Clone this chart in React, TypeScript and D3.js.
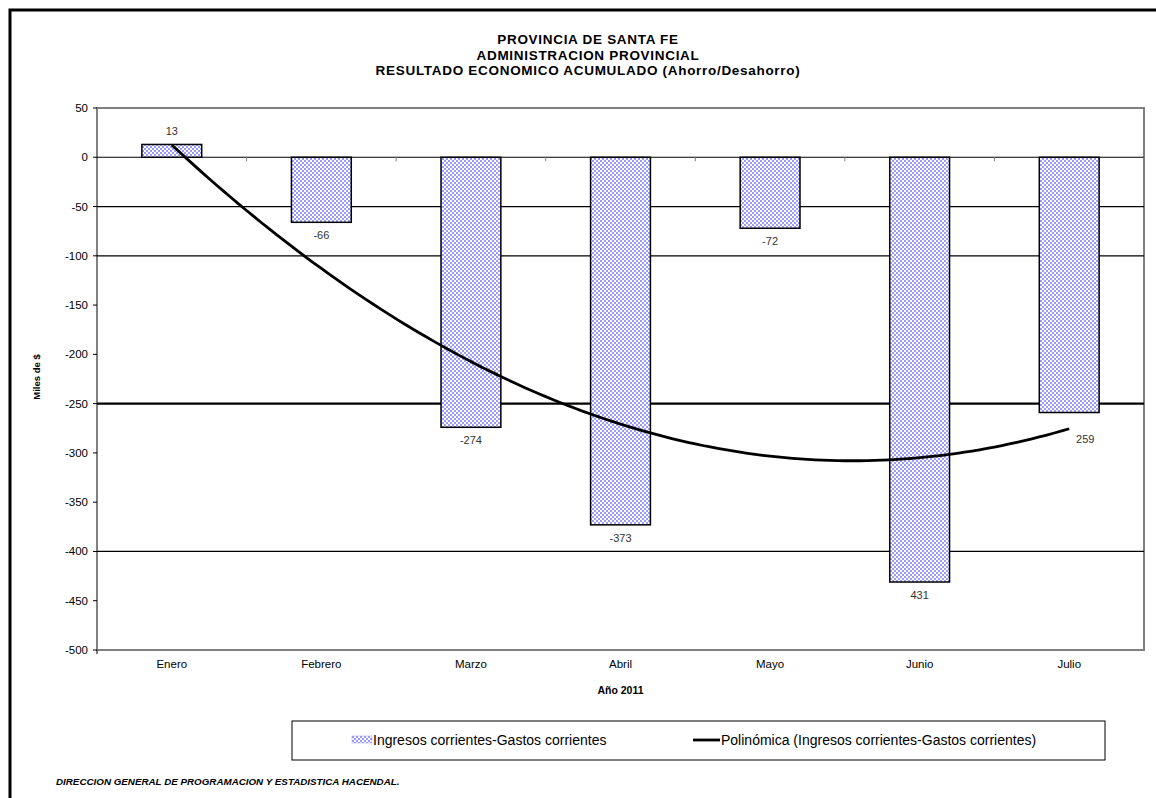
import React from "react";
import * as d3 from "d3";

const categories = ["Enero", "Febrero", "Marzo", "Abril", "Mayo", "Junio", "Julio"];
const values = [13, -66, -274, -373, -72, -431, -259];
const valueLabels = ["13", "-66", "-274", "-373", "-72", "431", "259"];
const yTicks = [50, 0, -50, -100, -150, -200, -250, -300, -350, -400, -450, -500];
const gridValues = [0, -50, -100, -250, -400];
const titleLines = [
  "PROVINCIA DE SANTA FE",
  "ADMINISTRACION PROVINCIAL",
  "RESULTADO ECONOMICO ACUMULADO (Ahorro/Desahorro)",
];
const seriesName = "Ingresos corrientes-Gastos corrientes";
const trendName = "Polinómica (Ingresos corrientes-Gastos corrientes)";

function quadFit(ys: number[]) {
  const n = ys.length;
  const xs = ys.map((_, i) => i + 1);
  let S0 = n, S1 = 0, S2 = 0, S3 = 0, S4 = 0, T0 = 0, T1 = 0, T2 = 0;
  xs.forEach((x, i) => {
    const y = ys[i];
    S1 += x; S2 += x * x; S3 += x ** 3; S4 += x ** 4;
    T0 += y; T1 += x * y; T2 += x * x * y;
  });
  const M = [
    [S0, S1, S2, T0],
    [S1, S2, S3, T1],
    [S2, S3, S4, T2],
  ];
  for (let i = 0; i < 3; i++) {
    for (let k = i + 1; k < 3; k++) {
      const f = M[k][i] / M[i][i];
      for (let j = i; j < 4; j++) M[k][j] -= f * M[i][j];
    }
  }
  const r = [0, 0, 0];
  for (let i = 2; i >= 0; i--) {
    let s = M[i][3];
    for (let j = i + 1; j < 3; j++) s -= M[i][j] * r[j];
    r[i] = s / M[i][i];
  }
  return (x: number) => r[0] + r[1] * x + r[2] * x * x;
}

export default function App() {
  const W = 1156, H = 798;
  const left = 97, right = 1144, top = 108, bottom = 650;
  const font = "'Liberation Sans', Arial, sans-serif";

  const x = d3.scaleBand<string>().domain(categories).range([left, right]).paddingInner(0.6).paddingOuter(0.3);
  const y = d3.scaleLinear().domain([-500, 50]).range([bottom, top]);
  const step = x.step();
  const cx = (i: number) => (x(categories[i]) as number) + x.bandwidth() / 2;

  const f = quadFit(values);
  const xi = d3.scaleLinear().domain([1, categories.length]).range([cx(0), cx(categories.length - 1)]);
  const pts = d3.range(1, categories.length + 0.001, 0.05).map((t) => [xi(t), y(f(t))] as [number, number]);
  const trendPath = d3.line()(pts) as string;
  const trendEnd = pts[pts.length - 1];

  return (
    <svg width={W} height={H} style={{ position: "absolute", left: 0, top: 0, background: "#fff" }} fontFamily={font}>
      <defs>
        <pattern id="chk" width="4" height="4" patternUnits="userSpaceOnUse">
          <rect width="4" height="4" fill="#ffffff" />
          <rect width="2" height="2" fill="#9a9aff" />
          <rect x="2" y="2" width="2" height="2" fill="#9a9aff" />
        </pattern>
      </defs>
      <path d={`M10,${H} V10 H${W}`} fill="none" stroke="#000" strokeWidth={3} />

      {titleLines.map((t, i) => (
        <text key={t} x={588} y={44 + i * 15.5} textAnchor="middle" fontSize={13.5} fontWeight="bold" letterSpacing={0.7}>{t}</text>
      ))}

      <rect x={left} y={top} width={right - left} height={bottom - top} fill="none" stroke="#808080" strokeWidth={2} />

      {gridValues.map((v) => (
        <line key={v} x1={left} x2={right} y1={y(v)} y2={y(v)} stroke="#000" strokeWidth={v === -250 ? 2.2 : 1.2} />
      ))}

      {yTicks.map((v) => (
        <g key={v}>
          <line x1={left - 4} x2={left} y1={y(v)} y2={y(v)} stroke="#000" strokeWidth={1} />
          <text x={88} y={y(v)} dy="0.35em" textAnchor="end" fontSize={11.5}>{v}</text>
        </g>
      ))}
      <text transform={`translate(40,${(top + bottom) / 2 - 2}) rotate(-90)`} textAnchor="middle" fontSize={9.5} fontWeight="bold">Miles de $</text>

      {categories.map((c, i) => (
        <line key={c} x1={left + step * (i + 1)} x2={left + step * (i + 1)} y1={y(0)} y2={y(0) + 4} stroke="#808080" strokeWidth={1} />
      ))}
      <line x1={left} x2={left} y1={bottom} y2={bottom + 4} stroke="#000" />

      {values.map((v, i) => (
        <rect key={categories[i]} x={x(categories[i])} y={y(Math.max(0, v))} width={x.bandwidth()} height={Math.abs(y(v) - y(0))}
          fill="url(#chk)" stroke="#000" strokeWidth={1.5} />
      ))}

      <path d={trendPath} fill="none" stroke="#000" strokeWidth={2.8} />

      {values.map((v, i) => {
        const last = i === values.length - 1;
        const lx = last ? trendEnd[0] + 16 : cx(i);
        const ly = last ? trendEnd[1] + 10 : v >= 0 ? y(v) - 13 : y(v) + 13;
        return (
          <text key={i} x={lx} y={ly} dy="0.35em" textAnchor="middle" fontSize={11} fill="#333">{valueLabels[i]}</text>
        );
      })}

      {categories.map((c, i) => (
        <text key={c} x={cx(i)} y={664} dy="0.35em" textAnchor="middle" fontSize={11.5}>{c}</text>
      ))}
      <text x={left + (right - left) / 2} y={690} dy="0.35em" textAnchor="middle" fontSize={10.5} fontWeight="bold">Año 2011</text>

      <rect x={292} y={721} width={813} height={39} fill="#fff" stroke="#000" strokeWidth={1} />
      <rect x={352} y={736} width={20} height={7} fill="url(#chk)" stroke="#9a9aff" strokeWidth={0.5} />
      <text x={373} y={740} dy="0.35em" fontSize={14}>{seriesName}</text>
      <line x1={693} x2={720} y1={740} y2={740} stroke="#000" strokeWidth={2.8} />
      <text x={721} y={740} dy="0.35em" fontSize={14}>{trendName}</text>

      <text x={56} y={785} fontSize={9.8} fontWeight="bold" fontStyle="italic">DIRECCION GENERAL DE PROGRAMACION Y ESTADISTICA HACENDAL.</text>
    </svg>
  );
}
